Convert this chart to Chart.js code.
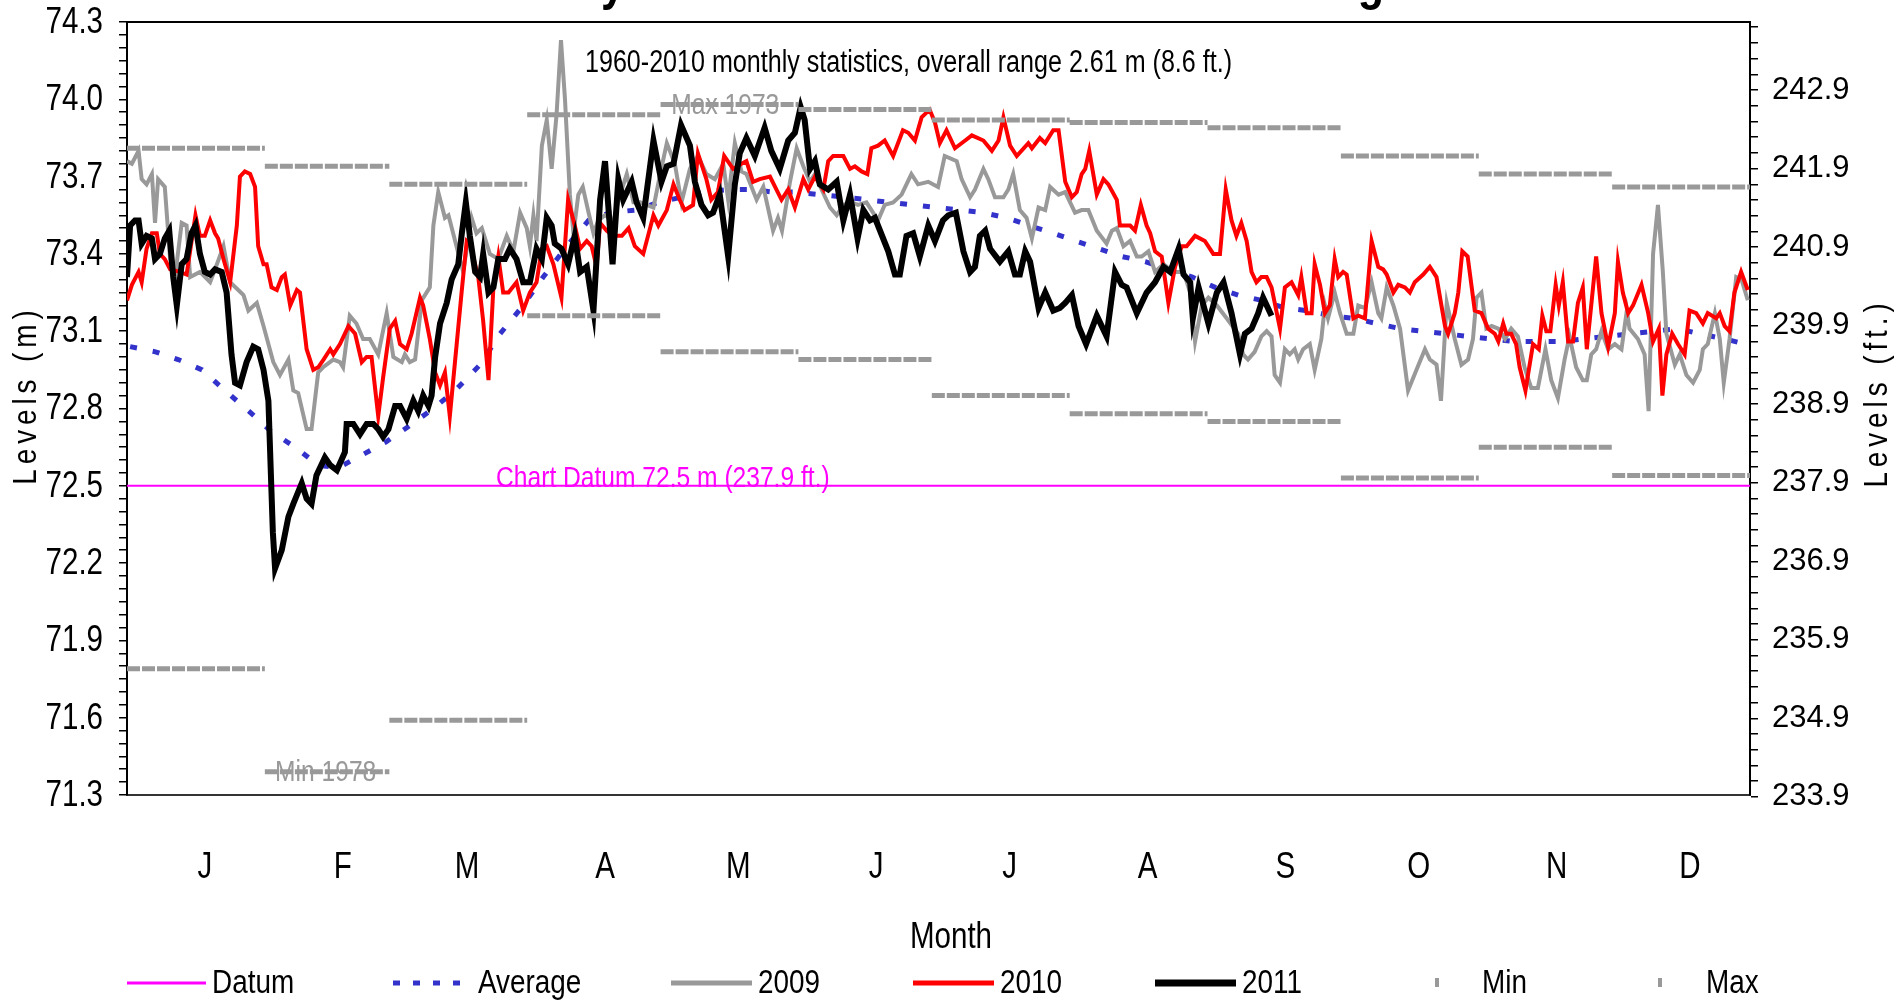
<!DOCTYPE html>
<html>
<head>
<meta charset="utf-8">
<title>Daily water levels</title>
<script src="https://cdn.jsdelivr.net/npm/chart.js@4.4.1/dist/chart.umd.min.js"></script>
<style>
  html, body { margin: 0; padding: 0; background: #fff; }
  #wrap { width: 1897px; height: 1005px; }
</style>
</head>
<body>
<div id="wrap"><canvas id="chart" width="1897" height="1005"></canvas></div>
<script>
// ---- data ----
const months = ['J', 'F', 'M', 'A', 'M', 'J', 'J', 'A', 'S', 'O', 'N', 'D'];
const monthStart = [0, 31, 59, 90, 120, 151, 181, 212, 243, 273, 304, 334, 365];
const metreTicks = [71.3, 71.6, 71.9, 72.2, 72.5, 72.8, 73.1, 73.4, 73.7, 74.0, 74.3];
const feetTicks = [233.9, 234.9, 235.9, 236.9, 237.9, 238.9, 239.9, 240.9, 241.9, 242.9];
const chartDatum = 72.5;

// 1960-2010 monthly extremes (m)
const maxLevel = [73.81, 73.74, 73.67, 73.94, 73.98, 73.96, 73.92, 73.91, 73.89, 73.78, 73.71, 73.66];
const minLevel = [71.79, 71.39, 71.59, 73.16, 73.02, 72.99, 72.85, 72.78, 72.75, 72.53, 72.65, 72.54];

// [day of year, level in m]
const average = [
  [0.7, 73.04], [6.4, 73.02], [11.5, 72.99], [16.9, 72.95], [22.0, 72.87], [27.4, 72.79], [32.5, 72.71],
  [37.8, 72.65], [43.0, 72.58], [47.5, 72.57], [52.9, 72.62], [58.2, 72.67], [63.3, 72.73], [68.9, 72.80],
  [73.8, 72.87], [79.4, 72.97], [83.9, 73.09], [89.1, 73.20], [93.6, 73.31], [98.9, 73.43], [103.8, 73.53],
  [108.6, 73.56], [114.2, 73.57], [119.5, 73.60], [124.7, 73.62], [130.0, 73.64], [135.2, 73.65], [140.4, 73.65],
  [145.3, 73.64], [150.6, 73.64], [155.8, 73.63], [161.4, 73.62], [166.5, 73.61], [171.6, 73.60], [176.8, 73.59],
  [182.0, 73.58], [187.3, 73.57], [192.6, 73.56], [197.8, 73.54], [202.9, 73.51], [208.3, 73.48], [213.4, 73.45],
  [218.6, 73.42], [223.7, 73.39], [229.0, 73.37], [234.0, 73.34], [239.6, 73.31], [244.7, 73.27], [249.9, 73.24],
  [255.1, 73.22], [260.4, 73.19], [265.3, 73.18], [270.9, 73.16], [275.8, 73.15], [281.0, 73.13], [286.3, 73.11],
  [291.3, 73.10], [296.4, 73.09], [301.6, 73.08], [306.9, 73.07], [312.1, 73.06], [317.5, 73.06], [322.6, 73.06],
  [327.4, 73.07], [332.7, 73.08], [338.2, 73.09], [343.6, 73.10], [348.7, 73.11], [353.7, 73.09], [359.3, 73.07],
  [364.0, 73.05]
];

const lvl2009 = [
  [0, 73.76], [1.1, 73.75], [2.6, 73.80], [3.3, 73.69], [4.4, 73.67], [5.6, 73.71], [6.3, 73.52], [7.0, 73.69],
  [8.5, 73.66], [9.7, 73.38], [10.8, 73.31], [12.3, 73.52], [13.4, 73.51], [14.2, 73.31], [16.4, 73.33], [18.7, 73.29],
  [19.8, 73.34], [21.7, 73.43], [23.2, 73.29], [26.2, 73.24], [27.3, 73.18], [29.2, 73.21], [30.7, 73.12], [32.9, 72.98],
  [34.4, 72.93], [36.3, 72.99], [37.4, 72.87], [38.5, 72.86], [40.4, 72.72], [41.5, 72.72], [43.0, 72.94], [44.1, 72.96],
  [46.4, 72.99], [47.9, 72.98], [48.6, 72.96], [50.1, 73.16], [51.6, 73.13], [53.1, 73.07], [54.6, 73.07], [56.5, 73.01],
  [58.4, 73.17], [59.9, 73.00], [61.8, 72.98], [62.5, 73.01], [63.6, 72.98], [64.8, 72.99], [66.3, 73.22], [68.1, 73.27],
  [68.9, 73.51], [70.0, 73.64], [71.5, 73.54], [72.3, 73.55], [74.1, 73.43], [75.6, 73.33], [77.5, 73.54], [78.6, 73.48],
  [79.8, 73.50], [81.6, 73.40], [83.5, 73.38], [85.4, 73.47], [86.9, 73.41], [88.4, 73.56], [89.9, 73.50], [90.6, 73.43],
  [91.4, 73.55], [92.1, 73.45], [93.3, 73.82], [94.4, 73.92], [95.5, 73.73], [96.6, 73.94], [97.6, 74.23], [98.5, 74.00],
  [99.6, 73.63], [100.4, 73.48], [101.5, 73.63], [102.5, 73.66], [103.8, 73.56], [104.9, 73.48], [106.0, 73.53], [107.5, 73.55],
  [109.4, 73.53], [110.9, 73.63], [112.4, 73.71], [113.9, 73.60], [115.4, 73.60], [118.4, 73.58], [119.9, 73.71], [121.4, 73.83],
  [123.2, 73.75], [124.7, 73.60], [126.6, 73.73], [128.4, 73.78], [130.3, 73.71], [132.2, 73.69], [134.1, 73.75], [135.2, 73.61],
  [136.7, 73.83], [138.2, 73.72], [139.3, 73.71], [141.6, 73.61], [143.1, 73.66], [145.3, 73.49], [146.4, 73.54], [147.3, 73.49],
  [149.1, 73.68], [150.6, 73.81], [152.1, 73.74], [153.6, 73.68], [154.7, 73.71], [156.2, 73.65], [158.1, 73.58], [159.6, 73.55],
  [161.1, 73.59], [162.9, 73.60], [164.4, 73.59], [166.3, 73.60], [168.9, 73.53], [170.4, 73.59], [172.3, 73.60], [174.2, 73.63],
  [176.4, 73.71], [177.9, 73.67], [180.2, 73.68], [182.4, 73.66], [183.9, 73.78], [186.6, 73.76], [187.7, 73.69], [189.6, 73.62],
  [190.7, 73.65], [192.6, 73.73], [193.7, 73.69], [195.2, 73.62], [197.1, 73.62], [198.2, 73.65], [199.3, 73.71], [200.8, 73.57],
  [202.3, 73.54], [203.5, 73.46], [205.0, 73.58], [206.5, 73.57], [207.6, 73.66], [209.5, 73.63], [211.0, 73.64], [213.2, 73.56],
  [214.7, 73.57], [216.2, 73.57], [218.1, 73.49], [220.3, 73.44], [221.5, 73.49], [222.6, 73.50], [224.1, 73.43], [225.6, 73.45],
  [227.1, 73.39], [228.2, 73.39], [229.7, 73.41], [231.2, 73.33], [233.1, 73.36], [235.3, 73.33], [237.6, 73.33], [239.1, 73.25],
  [240.2, 73.06], [241.7, 73.20], [243.2, 73.23], [245.1, 73.20], [247.3, 73.15], [249.9, 73.09], [251.0, 73.01], [252.1, 72.99],
  [253.6, 73.02], [255.1, 73.08], [256.3, 73.10], [257.4, 73.08], [258.1, 72.93], [259.3, 72.90], [260.4, 73.03], [261.5, 73.01],
  [262.6, 73.03], [263.4, 72.99], [264.5, 73.03], [266.0, 73.05], [267.1, 72.95], [268.6, 73.07], [269.4, 73.20], [270.1, 73.15],
  [271.6, 73.25], [272.8, 73.17], [274.3, 73.09], [275.8, 73.09], [276.9, 73.20], [278.4, 73.19], [279.9, 73.29], [281.4, 73.17],
  [282.1, 73.15], [283.3, 73.27], [284.8, 73.20], [286.3, 73.11], [288.1, 72.87], [290.0, 72.95], [291.9, 73.03], [293.0, 72.99],
  [294.5, 72.97], [295.5, 72.83], [296.8, 73.21], [298.6, 73.07], [300.1, 72.97], [301.6, 72.99], [302.7, 73.07], [303.5, 73.23],
  [304.6, 73.25], [305.7, 73.11], [306.9, 73.12], [308.4, 73.11], [309.9, 73.07], [311.3, 73.11], [312.8, 73.08], [314.3, 72.96],
  [315.8, 72.88], [317.3, 72.88], [319.0, 73.03], [320.3, 72.91], [321.8, 72.84], [323.3, 72.99], [324.4, 73.08], [325.9, 72.96],
  [327.4, 72.91], [328.3, 72.91], [329.3, 73.01], [330.4, 73.03], [331.6, 73.10], [333.1, 73.03], [334.6, 73.05], [336.1, 73.03],
  [337.3, 73.18], [337.9, 73.11], [339.8, 73.07], [341.3, 73.01], [342.2, 72.79], [343.2, 73.40], [344.3, 73.59], [345.4, 73.33],
  [346.2, 73.09], [348.1, 72.97], [349.2, 73.01], [350.7, 72.93], [352.2, 72.90], [353.7, 72.95], [354.4, 73.03], [355.5, 73.05],
  [357.1, 73.17], [358.2, 73.07], [359.1, 72.90], [360.4, 73.07], [361.9, 73.31], [363.1, 73.30], [364.5, 73.22]
];

const lvl2010 = [
  [0, 73.22], [1.1, 73.28], [2.6, 73.33], [3.3, 73.29], [4.4, 73.42], [5.6, 73.48], [6.7, 73.48], [7.4, 73.40],
  [8.5, 73.38], [9.7, 73.34], [11.9, 73.33], [13.4, 73.32], [15.4, 73.55], [16.4, 73.47], [17.5, 73.47], [18.7, 73.53],
  [19.8, 73.48], [20.5, 73.46], [21.7, 73.38], [23.2, 73.29], [24.7, 73.51], [25.4, 73.70], [26.5, 73.72], [27.7, 73.71],
  [28.8, 73.66], [29.5, 73.43], [30.7, 73.36], [31.4, 73.36], [32.5, 73.27], [33.7, 73.26], [34.8, 73.31], [35.5, 73.32],
  [36.7, 73.20], [38.2, 73.26], [38.9, 73.25], [40.4, 73.03], [41.9, 72.95], [43.0, 72.96], [44.2, 72.99], [45.7, 73.03],
  [46.4, 73.01], [47.9, 73.05], [49.8, 73.12], [51.3, 73.09], [52.8, 72.98], [53.9, 73.00], [55.0, 73.00], [56.5, 72.77],
  [57.6, 72.92], [59.1, 73.11], [60.3, 73.14], [61.4, 73.05], [62.9, 73.03], [64.0, 73.09], [65.9, 73.23], [66.6, 73.20],
  [68.1, 73.07], [69.3, 72.94], [70.4, 72.89], [71.5, 72.94], [72.6, 72.77], [75.3, 73.26], [76.4, 73.45], [77.1, 73.44],
  [79.0, 73.31], [80.1, 73.14], [81.3, 72.91], [82.4, 73.27], [83.5, 73.39], [84.6, 73.25], [85.8, 73.25], [87.6, 73.29],
  [89.1, 73.18], [90.6, 73.25], [92.1, 73.29], [93.3, 73.42], [94.4, 73.43], [95.9, 73.36], [97.7, 73.23], [99.2, 73.61],
  [100.7, 73.51], [101.9, 73.42], [103.4, 73.45], [104.5, 73.43], [105.6, 73.35], [106.4, 73.52], [107.9, 73.49], [109.4, 73.47],
  [111.3, 73.47], [112.8, 73.50], [114.2, 73.43], [116.1, 73.40], [118.4, 73.55], [119.5, 73.51], [121.4, 73.57], [122.9, 73.67],
  [124.3, 73.61], [125.4, 73.57], [127.3, 73.59], [128.4, 73.79], [130.3, 73.69], [131.4, 73.61], [132.9, 73.64], [134.3, 73.78],
  [136.3, 73.73], [138.2, 73.75], [139.3, 73.76], [140.8, 73.68], [142.3, 73.69], [144.6, 73.70], [147.2, 73.61], [148.7, 73.65],
  [150.2, 73.58], [152.1, 73.69], [153.2, 73.65], [154.7, 73.70], [156.6, 73.65], [157.7, 73.76], [158.8, 73.78], [161.1, 73.78],
  [162.6, 73.73], [163.7, 73.74], [165.2, 73.72], [166.5, 73.71], [167.4, 73.81], [168.9, 73.82], [170.4, 73.84], [172.3, 73.78],
  [174.5, 73.88], [175.7, 73.87], [177.2, 73.84], [178.7, 73.93], [180.5, 73.96], [181.7, 73.91], [182.8, 73.83], [184.3, 73.88],
  [186.2, 73.81], [188.5, 73.84], [190.0, 73.86], [192.6, 73.84], [194.5, 73.80], [196.0, 73.84], [197.1, 73.93], [198.6, 73.82],
  [200.1, 73.78], [202.7, 73.83], [203.5, 73.81], [205.3, 73.85], [206.5, 73.83], [208.3, 73.88], [209.5, 73.88], [211.0, 73.68],
  [212.5, 73.62], [213.6, 73.64], [214.7, 73.71], [215.5, 73.73], [216.4, 73.80], [218.1, 73.63], [219.6, 73.69], [220.7, 73.67],
  [222.6, 73.61], [223.3, 73.51], [225.6, 73.51], [226.7, 73.49], [228.0, 73.59], [229.3, 73.51], [230.1, 73.48], [231.2, 73.41],
  [232.7, 73.39], [234.2, 73.21], [235.7, 73.35], [237.2, 73.43], [238.3, 73.43], [240.2, 73.47], [242.4, 73.45], [244.3, 73.40],
  [245.8, 73.40], [247.1, 73.65], [248.4, 73.53], [249.5, 73.47], [250.6, 73.52], [251.8, 73.45], [252.9, 73.33], [254.0, 73.29],
  [255.1, 73.31], [256.3, 73.31], [257.4, 73.27], [259.3, 73.11], [260.4, 73.27], [261.9, 73.29], [263.4, 73.24], [264.1, 73.31],
  [265.3, 73.17], [266.4, 73.17], [267.1, 73.36], [268.3, 73.28], [269.4, 73.17], [270.5, 73.20], [271.6, 73.38], [272.4, 73.31],
  [273.5, 73.33], [274.3, 73.32], [275.8, 73.15], [276.9, 73.16], [278.4, 73.15], [279.9, 73.45], [281.4, 73.35], [282.5, 73.34],
  [283.3, 73.32], [284.8, 73.25], [285.9, 73.28], [287.4, 73.27], [288.5, 73.25], [289.6, 73.29], [291.5, 73.32], [293.0, 73.35],
  [294.5, 73.31], [296.4, 73.12], [297.1, 73.09], [298.6, 73.17], [299.4, 73.25], [300.3, 73.41], [301.5, 73.39], [303.1, 73.18],
  [304.6, 73.17], [306.1, 73.11], [307.6, 73.09], [308.4, 73.06], [309.5, 73.13], [310.2, 73.09], [311.3, 73.09], [312.4, 73.05],
  [313.2, 72.96], [314.5, 72.87], [316.2, 73.05], [317.5, 73.03], [318.3, 73.16], [319.2, 73.10], [320.1, 73.10], [321.3, 73.28],
  [322.0, 73.20], [322.9, 73.29], [324.1, 73.06], [325.2, 73.06], [326.3, 73.21], [327.4, 73.27], [328.3, 73.03], [330.4, 73.39],
  [331.6, 73.17], [333.1, 73.04], [334.6, 73.17], [335.3, 73.37], [336.4, 73.25], [337.6, 73.17], [338.7, 73.20], [340.6, 73.28],
  [342.1, 73.17], [343.2, 73.06], [344.5, 73.11], [345.3, 72.85], [346.2, 73.01], [347.5, 73.09], [348.8, 73.05], [350.3, 73.01],
  [351.4, 73.18], [352.9, 73.17], [354.4, 73.13], [355.5, 73.17], [357.4, 73.15], [358.2, 73.17], [359.3, 73.12], [360.4, 73.10],
  [361.5, 73.25], [363.0, 73.33], [364.5, 73.26]
];

const lvl2011 = [
  [0, 73.31], [0.7, 73.51], [1.8, 73.53], [2.6, 73.53], [3.3, 73.44], [4.4, 73.47], [5.6, 73.46], [6.3, 73.38],
  [7.4, 73.40], [8.5, 73.46], [9.5, 73.49], [10.4, 73.31], [11.2, 73.20], [12.3, 73.36], [13.4, 73.38], [14.5, 73.48],
  [15.4, 73.51], [16.4, 73.40], [17.5, 73.33], [18.7, 73.32], [19.8, 73.34], [21.3, 73.33], [22.4, 73.25], [23.5, 73.01],
  [24.3, 72.90], [25.4, 72.89], [26.9, 72.98], [28.4, 73.04], [29.5, 73.03], [30.7, 72.95], [31.8, 72.83], [32.8, 72.32],
  [33.3, 72.18], [34.8, 72.25], [36.3, 72.38], [37.4, 72.43], [39.3, 72.51], [40.4, 72.45], [41.5, 72.43], [42.6, 72.54],
  [44.5, 72.61], [45.7, 72.58], [47.2, 72.56], [49.0, 72.63], [49.4, 72.74], [50.9, 72.74], [52.4, 72.70], [53.9, 72.74],
  [55.4, 72.74], [56.5, 72.72], [57.6, 72.69], [58.8, 72.72], [60.3, 72.81], [61.4, 72.81], [62.9, 72.76], [64.4, 72.83],
  [65.5, 72.79], [66.6, 72.85], [67.8, 72.81], [68.5, 72.85], [69.3, 73.00], [70.4, 73.13], [71.9, 73.21], [73.0, 73.30],
  [74.5, 73.36], [75.3, 73.48], [76.2, 73.60], [77.1, 73.47], [78.3, 73.33], [79.4, 73.31], [80.1, 73.40], [81.3, 73.25],
  [82.4, 73.27], [83.5, 73.38], [85.0, 73.38], [86.1, 73.42], [87.6, 73.38], [89.1, 73.29], [90.6, 73.29], [92.1, 73.42],
  [93.3, 73.38], [94.4, 73.54], [95.5, 73.51], [96.2, 73.44], [97.7, 73.42], [99.2, 73.36], [100.7, 73.47], [101.9, 73.33],
  [103.4, 73.35], [104.9, 73.18], [106.4, 73.61], [107.5, 73.76], [109.2, 73.36], [110.5, 73.69], [111.6, 73.61], [113.5, 73.68],
  [114.6, 73.60], [116.1, 73.54], [118.4, 73.84], [120.2, 73.68], [121.4, 73.74], [122.9, 73.75], [124.6, 73.90], [126.6, 73.82],
  [127.7, 73.68], [129.2, 73.59], [130.7, 73.55], [131.8, 73.56], [133.3, 73.63], [135.2, 73.39], [136.7, 73.67], [137.8, 73.79],
  [139.3, 73.85], [141.2, 73.78], [143.4, 73.89], [144.9, 73.80], [146.8, 73.73], [148.7, 73.84], [150.2, 73.87], [151.5, 73.97],
  [152.4, 73.92], [153.6, 73.73], [154.7, 73.76], [155.8, 73.67], [157.7, 73.65], [159.6, 73.68], [161.1, 73.53], [162.6, 73.63],
  [164.3, 73.46], [165.6, 73.57], [167.1, 73.53], [168.2, 73.54], [171.2, 73.41], [172.7, 73.32], [173.8, 73.32], [175.3, 73.47],
  [176.8, 73.48], [178.3, 73.39], [180.2, 73.51], [181.7, 73.45], [183.5, 73.53], [184.7, 73.55], [186.4, 73.56], [188.1, 73.41],
  [189.6, 73.33], [190.7, 73.35], [191.8, 73.47], [193.0, 73.49], [194.1, 73.42], [196.3, 73.37], [198.2, 73.41], [199.7, 73.32],
  [200.8, 73.32], [202.0, 73.41], [203.1, 73.37], [205.0, 73.19], [206.5, 73.25], [208.3, 73.18], [209.8, 73.19], [211.0, 73.21],
  [212.5, 73.24], [214.0, 73.12], [215.7, 73.05], [218.1, 73.16], [220.3, 73.08], [222.2, 73.33], [223.7, 73.28], [224.8, 73.27],
  [227.1, 73.17], [229.3, 73.25], [231.2, 73.29], [233.1, 73.35], [234.6, 73.33], [236.5, 73.42], [237.6, 73.32], [239.1, 73.29],
  [239.7, 73.15], [241.0, 73.27], [243.2, 73.13], [245.1, 73.25], [246.6, 73.29], [248.4, 73.17], [250.3, 73.01], [251.4, 73.09],
  [252.9, 73.11], [254.4, 73.17], [255.5, 73.23], [257.4, 73.16]
];

// ---- helpers ----
const SANS = "'Liberation Sans', Arial, sans-serif";
const NARROW_X = 0.82;           // Arial Narrow look: Arial squeezed horizontally
const M_PER_FT = 0.3048;

const toPoints = arr => arr.map(([d, v]) => ({ x: d, y: v }));

// one flat segment per month, broken between months
function monthSteps(levels) {
  const pts = [];
  levels.forEach((v, i) => {
    pts.push({ x: monthStart[i], y: v }, { x: monthStart[i + 1], y: v }, { x: monthStart[i + 1], y: null });
  });
  return pts;
}

const sameVal = (a, b) => Math.abs(a - b) < 1e-6;

function narrowText(ctx, text, x, y, opt) {
  ctx.save();
  ctx.font = `${opt.bold ? 'bold ' : ''}${opt.size}px ${SANS}`;
  ctx.fillStyle = opt.color || '#000';
  ctx.textAlign = opt.align || 'left';
  ctx.textBaseline = opt.baseline || 'middle';
  ctx.letterSpacing = opt.spacing || '0px';
  ctx.translate(x, y);
  if (opt.rotate) ctx.rotate(opt.rotate);
  ctx.scale(NARROW_X, 1);
  ctx.fillText(text, 0, 0);
  ctx.restore();
}

// ---- extra drawing: frame, tick labels, notes, axis titles, legend ----
const legendItems = [
  { label: 'Datum', line: [127, 206], text: 212, color: '#ff00ff', width: 3 },
  { label: 'Average', line: [393, 472], text: 478, color: '#3333cc', width: 5, dash: [7, 13] },
  { label: '2009', line: [671, 752], text: 758, color: '#999999', width: 5 },
  { label: '2010', line: [913, 994], text: 1000, color: '#ff0000', width: 5 },
  { label: '2011', line: [1155, 1236], text: 1242, color: '#000000', width: 7 },
  { label: 'Min', marker: 1437, text: 1482, color: '#999999' },
  { label: 'Max', marker: 1660, text: 1706, color: '#999999' }
];

const decorations = {
  id: 'decorations',
  afterDraw(chart) {
    const { ctx, chartArea: a, scales: { x, y } } = chart;
    ctx.save();

    // top edge of the plot frame
    ctx.strokeStyle = '#000';
    ctx.lineWidth = 2;
    ctx.beginPath();
    ctx.moveTo(a.left, a.top);
    ctx.lineTo(a.right, a.top);
    ctx.stroke();

    // chart title, mostly cropped off by the top edge of the picture
    narrowText(ctx, 'Lac des Chats Daily Water Levels at Chenaux Generating Station', 880, -1,
      { size: 52.5, bold: true, align: 'center', baseline: 'alphabetic' });

    // tick labels of the metre axis and the month axis
    metreTicks.forEach(v => {
      narrowText(ctx, v.toFixed(1), a.left - 24, y.getPixelForValue(v) + 1, { size: 36, align: 'right' });
    });
    months.forEach((m, i) => {
      narrowText(ctx, m, x.getPixelForValue(monthStart[i] + 17.5), 868, { size: 36, align: 'center' });
    });

    // notes inside the plot
    narrowText(ctx, '1960-2010 monthly statistics, overall range 2.61 m (8.6 ft.)',
      x.getPixelForValue(103), y.getPixelForValue(74.14), { size: 30.6 });
    narrowText(ctx, 'Max 1973', x.getPixelForValue(122.4), y.getPixelForValue(maxLevel[4]) + 1,
      { size: 30, color: '#999999' });
    narrowText(ctx, 'Min 1978', x.getPixelForValue(33.3), y.getPixelForValue(minLevel[1]) + 1,
      { size: 30, color: '#999999' });
    narrowText(ctx, 'Chart Datum 72.5 m (237.9 ft.)', x.getPixelForValue(83), y.getPixelForValue(chartDatum) + 1,
      { size: 30, color: '#ff00ff', baseline: 'alphabetic' });

    // axis titles
    narrowText(ctx, 'Month', 951, 938, { size: 36, align: 'center' });
    narrowText(ctx, 'Levels (m)', 27, 395, { size: 34, align: 'center', rotate: -Math.PI / 2, spacing: '6px' });
    narrowText(ctx, 'Levels (ft.)', 1878, 393, { size: 34, align: 'center', rotate: -Math.PI / 2, spacing: '6px' });

    // legend
    const ly = 983;
    legendItems.forEach(it => {
      if (it.line) {
        ctx.strokeStyle = it.color;
        ctx.lineWidth = it.width;
        ctx.setLineDash(it.dash || []);
        ctx.beginPath();
        ctx.moveTo(it.line[0], ly);
        ctx.lineTo(it.line[1], ly);
        ctx.stroke();
        ctx.setLineDash([]);
      } else {
        ctx.fillStyle = it.color;
        ctx.fillRect(it.marker - 2, ly - 5, 4, 9);
      }
      narrowText(ctx, it.label, it.text, ly + 1, { size: 34 });
    });

    ctx.restore();
  }
};

// ---- chart ----
const metreMinor = [];
for (let k = 0; k <= 60; k++) metreMinor.push(+(71.3 + k * 0.05).toFixed(2));
const feetMinor = [];
for (let k = 0; k <= 49; k++) feetMinor.push(+(233.9 + k * 0.2).toFixed(1));

new Chart(document.getElementById('chart'), {
  type: 'line',
  data: {
    datasets: [
      { label: 'Datum', data: toPoints([[0, chartDatum], [365, chartDatum]]), borderColor: '#ff00ff', borderWidth: 2, order: 6 },
      { label: 'Average', data: toPoints(average), borderColor: '#3333cc', borderWidth: 5, borderDash: [7, 16], order: 5 },
      { label: '2009', data: toPoints(lvl2009), borderColor: '#999999', borderWidth: 4, order: 4 },
      { label: '2010', data: toPoints(lvl2010), borderColor: '#ff0000', borderWidth: 4, order: 3 },
      { label: '2011', data: toPoints(lvl2011), borderColor: '#000000', borderWidth: 6, order: 2 },
      { label: 'Min', data: monthSteps(minLevel), borderColor: '#999999', borderWidth: 5, borderDash: [13, 2], spanGaps: false, order: 1 },
      { label: 'Max', data: monthSteps(maxLevel), borderColor: '#999999', borderWidth: 5, borderDash: [13, 2], spanGaps: false, order: 0 }
    ]
  },
  options: {
    responsive: false,
    animation: false,
    devicePixelRatio: 1,
    layout: { padding: { top: 22, left: 0, right: 0, bottom: 0 } },
    elements: { point: { radius: 0 }, line: { tension: 0, borderCapStyle: 'butt' } },
    plugins: { legend: { display: false }, tooltip: { enabled: false }, title: { display: false } },
    scales: {
      x: {
        type: 'linear', min: 0, max: 365,
        afterBuildTicks: s => { s.ticks = monthStart.slice(0, 12).map(d => ({ value: d + 17.5 })); },
        afterFit: s => { s.height = 210; s.paddingLeft = 0; s.paddingRight = 0; },
        grid: { display: false },
        border: { display: true, color: '#333333', width: 2 },
        ticks: { display: false, autoSkip: false, callback: (v, i) => months[i] }
      },
      y: {
        type: 'linear', position: 'left', min: 71.3, max: 74.3,
        afterBuildTicks: s => { s.ticks = metreMinor.map(v => ({ value: v })); },
        afterFit: s => { s.width = 127; s.paddingTop = 0; s.paddingBottom = 0; },
        grid: { drawOnChartArea: false, drawTicks: true, tickLength: 8, color: '#000', lineWidth: 1.5 },
        border: { display: true, color: '#000', width: 2 },
        ticks: {
          display: false, autoSkip: false,
          callback: v => (metreTicks.some(t => sameVal(t, v)) ? v.toFixed(1) : '')
        }
      },
      y2: {
        type: 'linear', position: 'right', min: 71.3 / M_PER_FT, max: 74.3 / M_PER_FT,
        afterBuildTicks: s => { s.ticks = feetMinor.map(v => ({ value: v })); },
        afterFit: s => { s.width = 147; s.paddingTop = 0; s.paddingBottom = 0; },
        grid: { drawOnChartArea: false, drawTicks: true, tickLength: 8, color: '#000', lineWidth: 1.5 },
        border: { display: true, color: '#000', width: 2 },
        ticks: {
          autoSkip: false, padding: 14, color: '#000',
          font: { family: SANS, size: 31 },
          callback: v => (feetTicks.some(t => sameVal(t, v)) ? v.toFixed(1) : '')
        }
      }
    }
  },
  plugins: [decorations]
});
</script>
</body>
</html>
